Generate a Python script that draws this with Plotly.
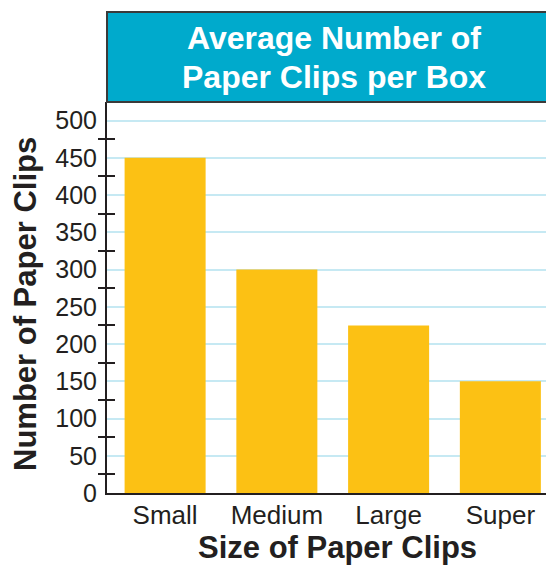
import plotly.graph_objects as go

categories = ["Small", "Medium", "Large", "Super"]
values = [450, 300, 225, 150]
label_ticks = [0, 50, 100, 150, 200, 250, 300, 350, 400, 450, 500]
mark_ticks = [25, 75, 125, 175, 225, 275, 325, 375, 425, 475]

title_lines = ["Average Number of", "Paper Clips per Box"]
x_title = "Size of Paper Clips"
y_title = "Number of Paper Clips"

FONT = "Liberation Sans, Arial, Helvetica, sans-serif"
DARK = "#231f20"
BAR = "#FCC114"
BOX = "#00AACC"
GRID = "#c6e9f3"

fig = go.Figure()
fig.add_trace(go.Bar(x=list(range(len(categories))), y=values, marker=dict(color=BAR, line=dict(width=0)),
                     width=0.725, showlegend=False, hoverinfo="skip"))
fig.add_trace(go.Scatter(x=[None], y=[None], yaxis="y2", showlegend=False, hoverinfo="skip"))

W, H = 546, 562
L, T, B = 99, 94, 77
plot_w = W - L
plot_h = H - T - B

fig.update_layout(
    width=W, height=H,
    margin=dict(l=L, r=0, t=T, b=B, pad=0),
    paper_bgcolor="white", plot_bgcolor="white",
    font=dict(family=FONT, color=DARK),
    xaxis=dict(
        range=[-0.52, 3.48],
        tickmode="array", tickvals=list(range(len(categories))), ticktext=categories,
        ticks="", showgrid=False, zeroline=False,
        showline=True, linecolor=DARK, linewidth=2,
        tickfont=dict(size=26, color=DARK, family=FONT),
        ticklabelstandoff=-2,
    ),
    yaxis=dict(
        range=[0, 525],
        tickmode="array", tickvals=label_ticks,
        ticks="", showgrid=True, gridcolor=GRID, gridwidth=1.5, zeroline=False,
        showline=True, linecolor=DARK, linewidth=2,
        tickfont=dict(size=25, color=DARK, family=FONT),
        ticklabelstandoff=3,
        minor=dict(tickmode="array", tickvals=mark_ticks, ticks="inside", ticklen=8,
                   tickwidth=1.5, tickcolor=DARK, showgrid=False),
    ),
    yaxis2=dict(
        range=[0, 525], overlaying="y", side="left", anchor="x",
        tickmode="array", tickvals=mark_ticks,
        ticks="outside", ticklen=8, tickwidth=1.5, tickcolor=DARK,
        showticklabels=False, showgrid=False, zeroline=False, showline=False,
    ),
    shapes=[
        dict(type="rect", xref="paper", yref="paper", x0=0, x1=1.01, y0=1, y1=1 + 90 / plot_h,
             fillcolor=BOX, line=dict(color="#3a3a3a", width=2), layer="above"),
    ],
    annotations=[
        dict(text="<b>" + title_lines[0] + "</b>", xref="paper", yref="paper", x=0.507, y=1 + 64 / plot_h,
             xanchor="center", yanchor="middle", showarrow=False,
             font=dict(size=32, color="white", family=FONT)),
        dict(text="<b>" + title_lines[1] + "</b>", xref="paper", yref="paper", x=0.507, y=1 + 25 / plot_h,
             xanchor="center", yanchor="middle", showarrow=False,
             font=dict(size=32, color="white", family=FONT)),
        dict(text="<b>" + x_title + "</b>", xref="paper", yref="paper", x=(329 - L) / plot_w, y=-54 / plot_h,
             xanchor="center", yanchor="middle", showarrow=False,
             font=dict(size=31, color=DARK, family=FONT)),
        dict(text="<b>" + y_title + "</b>", xref="paper", yref="paper", x=-82 / plot_w, y=189 / plot_h,
             xanchor="center", yanchor="middle", showarrow=False, textangle=-90,
             font=dict(size=31, color=DARK, family=FONT)),
    ],
)

fig.write_html("out.html")
